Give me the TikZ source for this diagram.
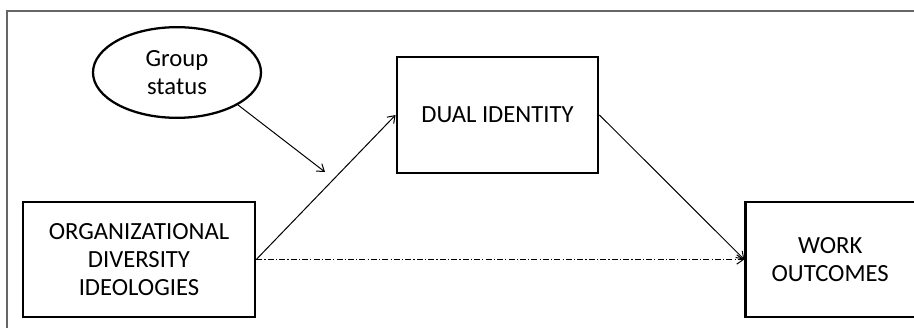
\documentclass[tikz,border=0pt]{standalone}
\usepackage{fontspec}
\setmainfont{Carlito}
\usepackage{tikz}
\usetikzlibrary{shapes,arrows.meta,positioning}

\begin{document}
\begin{tikzpicture}[x=0.75pt,y=-0.75pt,
>={Straight Barb[length=5pt,width=7pt]},
concept/.style={
% The shape:
rectangle,
% The border:
line width=1.9pt,
draw=black,
% Font
font=\fontsize{18.5pt}{21pt}\selectfont,
align=center,
inner sep=0pt
},
moderator/.style={
% The shape:
ellipse,minimum width=126pt,minimum height=68pt,
% The rest
line width=1.7pt,draw=black,
font=\fontsize{18.5pt}{21pt}\selectfont,
align=center,inner sep=0pt},
link/.style={line width=0.75pt},
direct/.style={line width=0.75pt,dash pattern=on 4.5pt off 1.6pt on 0.9pt off 1.6pt}]

\useasboundingbox (0,0) rectangle (914,328);
% frame round the model
\draw[gray!80!black, line width=0.9pt] (7,328) -- (7,11) -- (914,11);

\node (odi) [concept, minimum width=174pt, minimum height=86pt] at (139,259.5)
{ORGANIZATIONAL\\ DIVERSITY\\ IDEOLOGIES};
\node (work) [concept, minimum width=127pt, minimum height=86pt, right=366pt of odi]
{WORK\\ OUTCOMES};
\node (dual) [concept, minimum width=151pt, minimum height=87pt] at (497.5,115)
{DUAL IDENTITY};
\node (grp) [moderator] at (177,72.5) {Group\\ status};
\coordinate (mod) at (325,172);

\path (odi.east) edge[link,->] (dual.west);
\path (dual.east) edge[link,->] (work.west);
\path (odi.east) edge[direct,->] (work.west);
\draw[link,->] (grp.-28) -- (mod);
\end{tikzpicture}
\end{document}
